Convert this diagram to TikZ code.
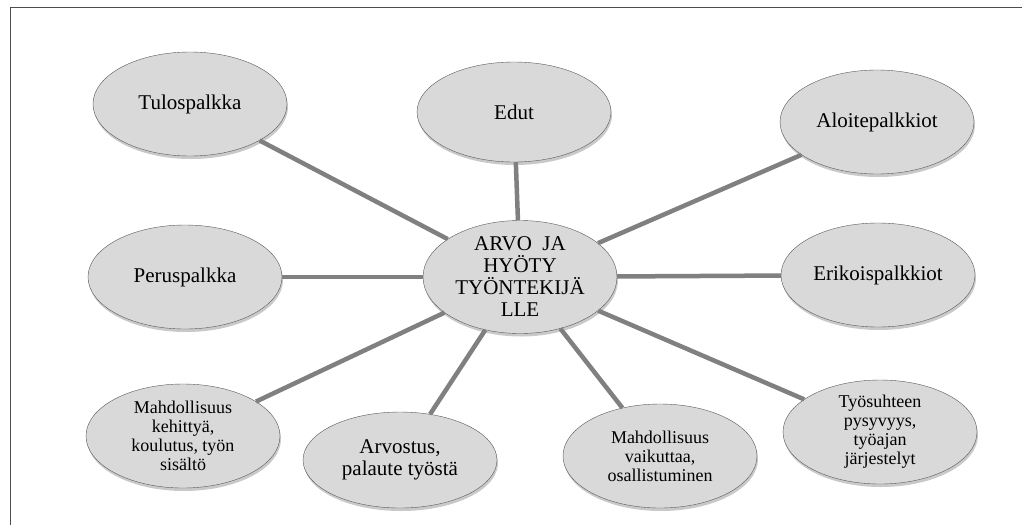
\documentclass[tikz,border=0pt]{standalone}
\usepackage{fontspec}
\setmainfont{Liberation Serif}
\usepackage{xcolor}
\usetikzlibrary{shapes.geometric,shadows}
\colorlet{bubble edge}{black!65}
\colorlet{bubble area}{black!15}
\colorlet{link line}{black!50}
\tikzset{bubble/.style={ellipse, draw=bubble edge, fill=bubble area,
        minimum width=194pt, minimum height=104pt, inner sep=0pt, align=center,
        font=\fontsize{21}{22}\selectfont,
        drop shadow={shadow xshift=1pt, shadow yshift=-3pt, opacity=0.3, fill=black!70}},
    small/.style={font=\fontsize{18}{19}\selectfont},
    link/.style={draw=link line, line width=4.5pt}}

\begin{document}
\begin{tikzpicture}[x=1pt, y=-1pt]
    \useasboundingbox (0,0) rectangle (1022,525);
    \draw[black!70, line width=1pt] (10,525) -- (10,7) -- (1022,7);
    \node[bubble, minimum height=110pt] (hub) at (520,277)
      {ARVO\ \ JA\\HYÖTY\\TYÖNTEKIJÄ\\LLE};
    \node[bubble] (tulos)  at (190,104) {Tulospalkka};
    \node[bubble, minimum height=100pt] (edut) at (514,112) {Edut};
    \node[bubble] (aloite) at (877,122) {Aloitepalkkiot};
    \node[bubble] (perus)  at (185,277) {Peruspalkka};
    \node[bubble] (erikois) at (878,275) {Erikoispalkkiot};
    \node[bubble, small] (kehitys) at (183,436)
      {Mahdollisuus\\kehittyä,\\koulutus, työn\\sisältö};
    \node[bubble, minimum height=96pt] (arvostus) at (400,460)
      {Arvostus,\\palaute työstä};
    \node[bubble, small] (vaikutus) at (660,456)
      {Mahdollisuus\\vaikuttaa,\\osallistuminen};
    \node[bubble, small] (tyosuhde) at (880,432)
      {Työsuhteen\\pysyvyys,\\työajan\\järjestelyt};
    \draw[link] (hub) -- (tulos);
    \draw[link] (hub) -- (edut);
    \draw[link] (hub) -- (aloite);
    \draw[link] (hub) -- (perus);
    \draw[link] (hub) -- (erikois);
    \draw[link] (hub) -- (kehitys);
    \draw[link] (hub) -- (arvostus);
    \draw[link] (hub) -- (vaikutus);
    \draw[link] (hub) -- (tyosuhde);
\end{tikzpicture}
\end{document}
